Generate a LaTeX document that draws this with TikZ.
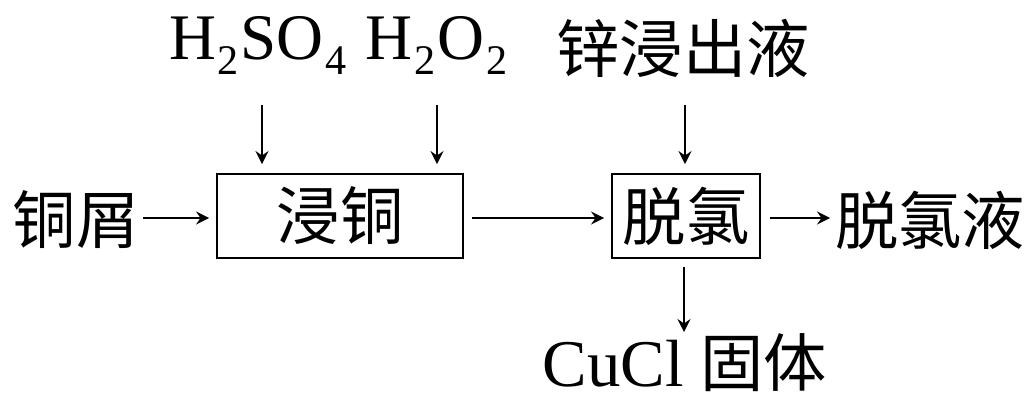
\documentclass[tikz,border=0pt]{standalone}
\usepackage{fontspec}
\setmainfont{Liberation Serif}
\newfontfamily\cjk{Noto Sans CJK SC}
\usetikzlibrary{arrows.meta}
\newcommand\subsc[1]{\kern1pt\raisebox{-8pt}{\fontsize{24}{24}\selectfont #1}\kern1pt}
\tikzset{
  txt/.style={inner sep=0pt, font=\fontsize{36}{40}\selectfont},
  stagebox/.style={draw, line width=1.1pt, inner sep=0pt, font=\fontsize{36}{40}\selectfont\cjk},
  flow/.style={line width=1.1pt, -{Stealth[length=2.6mm, width=2.6mm, inset=0.9mm]}},
}
\begin{document}
\begin{tikzpicture}[x=0.02cm, y=-0.02cm]
\useasboundingbox (0,0) rectangle (1033,398);
% boxes
\node[stagebox, minimum width=246*0.02cm, minimum height=84*0.02cm] (b1) at (340,216) {浸铜};
\node[stagebox, minimum width=148*0.02cm, minimum height=84*0.02cm] (b2) at (686,216) {脱氯};
% texts
\node[txt, font=\fontsize{36}{40}\selectfont\cjk] (cx) at (76,220) {铜屑};
\node[txt, font=\fontsize{36}{40}\selectfont\cjk] (out) at (930,220) {脱氯液};
\node[txt, font=\fontsize{37}{40}\selectfont, anchor=base] (reag) at (339,60) {H\subsc{2}SO\subsc{4}\hspace{10pt}H\subsc{2}O\subsc{2}};
\node[txt, font=\fontsize{36}{40}\selectfont\cjk] (zn) at (683,48) {锌浸出液};
\node[txt, font=\fontsize{38}{40}\selectfont, anchor=base] (cucl) at (685,386) {CuCl {\cjk\fontsize{36}{40}\selectfont 固体}};
% coordinates
\coordinate (a1) at (262,105);
\coordinate (a2) at (437,105);
\coordinate (a3) at (685,105);
\coordinate (c1) at (143,218);
\coordinate (c2) at (472,218);
\coordinate (c3) at (770,218);
\coordinate (d1) at (684,267);
\coordinate (d2) at (684,332);
% arrows
\draw[flow, shorten >=1.8mm] (a1) -- (a1 |- b1.north);
\draw[flow, shorten >=1.8mm] (a2) -- (a2 |- b1.north);
\draw[flow, shorten >=1.8mm] (a3) -- (a3 |- b2.north);
\draw[flow, shorten >=1.4mm] (c1) -- (c1 -| b1.west);
\draw[flow, shorten >=1.4mm] (c2) -- (c2 -| b2.west);
\draw[flow] (c3) -- (830,218) coordinate (oe);
\draw[flow] (d1) -- (d2);
\end{tikzpicture}
\end{document}
